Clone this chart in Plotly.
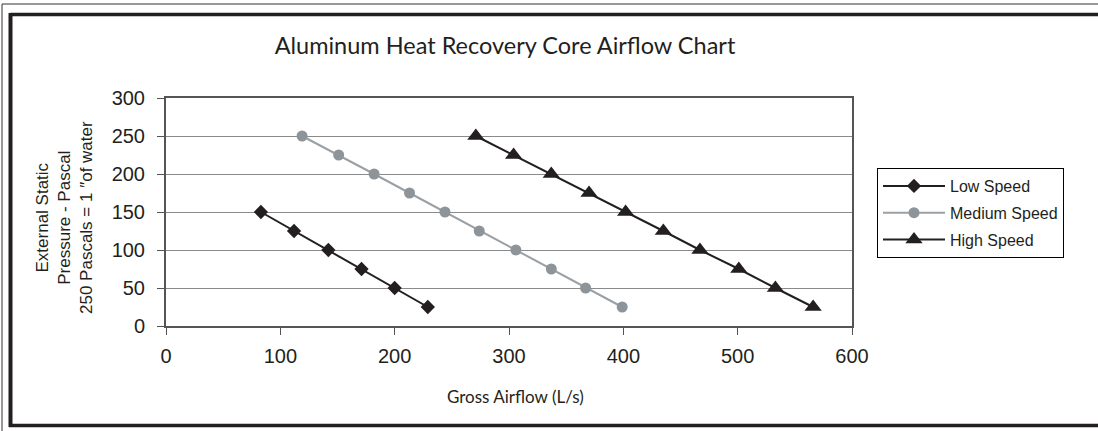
import plotly.graph_objects as go

# ---- data ----
low_x = [83, 112, 142, 171, 200, 229]
low_y = [150, 125, 100, 75, 50, 25]
med_x = [119, 151, 182, 213, 244, 274, 306, 337, 367, 399]
med_y = [250, 225, 200, 175, 150, 125, 100, 75, 50, 25]
high_x = [271, 304, 337, 370, 402, 435, 467, 501, 533, 566]
high_y = [250, 225, 200, 175, 150, 125, 100, 75, 50, 25]
series_names = ["Low Speed", "Medium Speed", "High Speed"]
x_ticks = [0, 100, 200, 300, 400, 500, 600]
y_ticks = [0, 50, 100, 150, 200, 250, 300]

W, H = 1098, 431
ML, MR, MT, MB = 166, 246, 98, 105
PW, PH = W - ML - MR, H - MT - MB


def px(x):
    return (x - ML) / PW


def py(y):
    return (H - MB - y) / PH


BLACK = "#231f20"
GRAY_M = "#8d959b"
GRAY_L = "#9aa0a4"

fig = go.Figure()
fig.add_trace(go.Scatter(x=low_x, y=low_y, name=series_names[0], mode="lines+markers",
                         line=dict(color=BLACK, width=2),
                         marker=dict(symbol="diamond", size=11, color=BLACK),
                         legendgroup="a"))
fig.add_trace(go.Scatter(x=med_x, y=med_y, name=series_names[1], mode="lines+markers",
                         line=dict(color=GRAY_L, width=2),
                         marker=dict(symbol="circle", size=11, color=GRAY_M),
                         legendgroup="b"))
fig.add_trace(go.Scatter(x=high_x, y=high_y, name=series_names[2], mode="lines+markers",
                         line=dict(color=BLACK, width=2),
                         marker=dict(symbol="triangle-up", size=15, color=BLACK),
                         legendgroup="c"))

frame = []
# outer thin frame lines
frame.append(dict(type="line", xref="paper", yref="paper", x0=px(2), x1=px(1098), y0=py(4), y1=py(4),
                  line=dict(color="#333333", width=1)))
frame.append(dict(type="line", xref="paper", yref="paper", x0=px(2), x1=px(2), y0=py(4), y1=py(431),
                  line=dict(color="#333333", width=1)))
# inner thick frame
frame.append(dict(type="line", xref="paper", yref="paper", x0=px(10.5), x1=px(1098), y0=py(14.5), y1=py(14.5),
                  line=dict(color=BLACK, width=3.5)))
frame.append(dict(type="line", xref="paper", yref="paper", x0=px(10.5), x1=px(10.5), y0=py(13), y1=py(427),
                  line=dict(color=BLACK, width=4)))
frame.append(dict(type="line", xref="paper", yref="paper", x0=px(9), x1=px(1098), y0=py(425.5), y1=py(425.5),
                  line=dict(color=BLACK, width=3.5)))

fig.update_layout(
    width=W, height=H,
    margin=dict(l=ML, r=MR, t=MT, b=MB, pad=0),
    paper_bgcolor="white", plot_bgcolor="white",
    showlegend=True,
    title=dict(text="Aluminum Heat Recovery Core Airflow Chart",
               font=dict(family="Lato", size=23.5, color="#231f20"),
               xref="paper", x=px(505), xanchor="center",
               yref="container", y=1 - 46 / H, yanchor="middle"),
    xaxis=dict(range=[0, 600], tickvals=x_ticks, ticks="outside", ticklen=7, tickcolor="#555",
               showgrid=False, zeroline=False, showline=True, linecolor="#555", linewidth=1.5,
               mirror=True, tickfont=dict(family="Liberation Sans, Arial", size=20, color="#231f20"),
               ticklabelstandoff=4),
    yaxis=dict(range=[0, 300], tickvals=y_ticks, ticks="outside", ticklen=7, tickcolor="#555",
               showgrid=True, gridcolor="#8a8a8a", gridwidth=1, zeroline=False,
               showline=True, linecolor="#555", linewidth=2, mirror=True,
               tickfont=dict(family="Liberation Sans, Arial", size=20, color="#231f20"),
               ticklabelstandoff=8),
    legend=dict(x=px(877), y=py(168), xanchor="left", yanchor="top",
                bordercolor="#000", borderwidth=1, bgcolor="white",
                font=dict(family="Liberation Sans, Arial", size=16, color="#231f20"),
                tracegroupgap=3, itemwidth=62),
    shapes=frame,
    annotations=[
        dict(text="Gross Airflow (L/s)", xref="paper", yref="paper", x=px(515), y=py(396),
             xanchor="center", yanchor="middle", showarrow=False,
             font=dict(family="Lato", size=17, color="#231f20")),
        dict(text="External Static<br>Pressure - Pascal<br>250 Pascals = 1 \u2033of water",
             xref="paper", yref="paper", x=px(64), y=py(218), textangle=-90,
             xanchor="center", yanchor="middle", showarrow=False,
             font=dict(family="Liberation Sans, Arial", size=17, color="#231f20")),
    ],
)

fig.write_html("out.html", config={"displayModeBar": False},
               post_script="document.body.style.margin='0';")
